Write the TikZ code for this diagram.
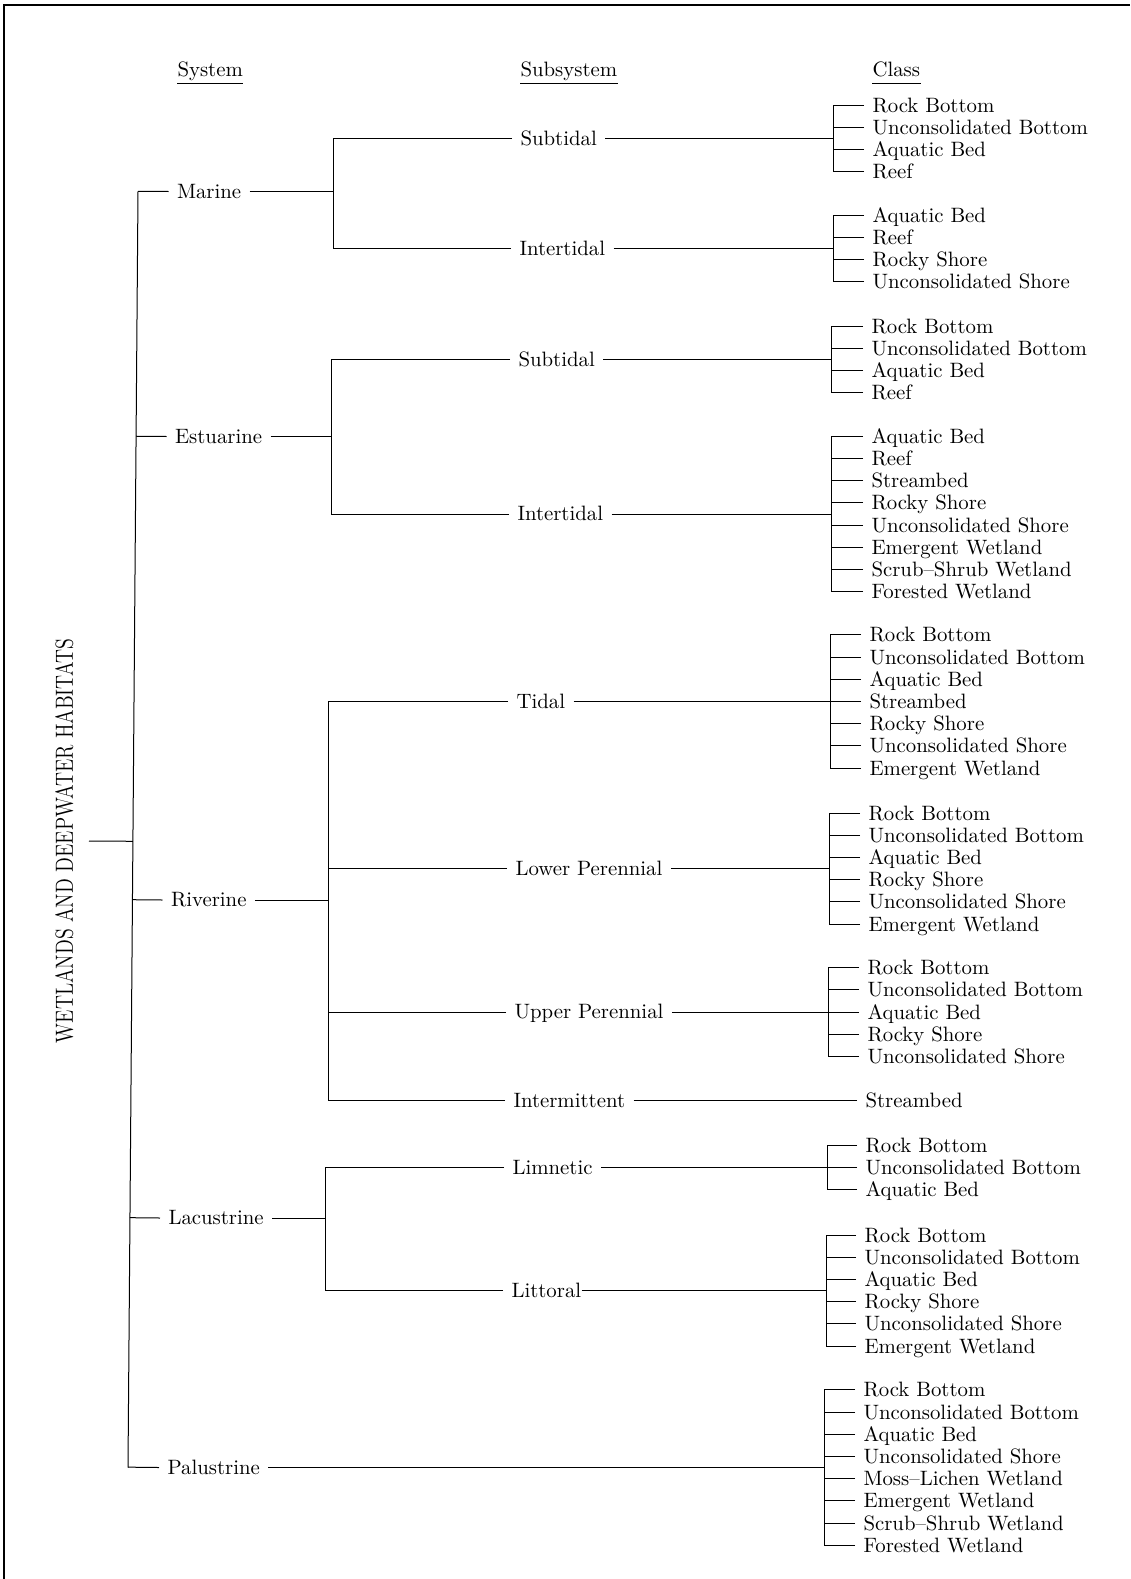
\documentclass[tikz,border=0pt]{standalone}
\usepackage{fontspec}
\usepackage{graphicx}
\usetikzlibrary{calc}
\begin{document}
\begin{tikzpicture}[x=0.5pt,y=-0.5pt,line width=0.5pt,font=\fontsize{10.4}{12}\selectfont,
	lbl/.style={anchor=west,inner xsep=4pt,inner ysep=0pt,text height=7.5pt,text depth=1pt},
	cls/.style={lbl,text height=8pt},
	head/.style={anchor=base west,inner sep=0pt,text depth=3.2pt}]
	\useasboundingbox (0,0) rectangle (1130,1579);
	\draw[line width=1.1pt] (4,1579) -- (4,5) -- (1130,5);
	\node[head] (hsys) at (177,76.5) {System};
	\node[head] (hsub) at (520,76.5) {Subsystem};
	\node[head] (hcls) at (872,76.5) {Class};
	\foreach \h in {hsys,hsub,hcls} \draw (\h.south west) -- (\h.south east);
	\coordinate (tTop) at (138,191.5);
	\coordinate (tBot) at (128,1467.5);
	\draw (tTop) -- (tBot);
	\node[rotate=90,anchor=south,inner xsep=0pt,inner ysep=7.5pt] (root) at (89,841)
		{\scalebox{0.8}[1]{\fontsize{12.4}{14}\selectfont WETLANDS AND DEEPWATER HABITATS}};
	\draw (root.south) -- ($(tTop)!(root.south)!(tBot)$);
	\node[lbl] (mar) at (168.5,191.5) {Marine};
	\node[lbl] (est) at (166.5,436.5) {Estuarine};
	\node[lbl] (riv) at (162.5,900) {Riverine};
	\node[lbl] (lac) at (160,1218) {Lacustrine};
	\node[lbl] (pal) at (159,1467.5) {Palustrine};
	\foreach \s in {mar,est,riv,lac,pal} \draw (\s.west) -- ($(tTop)!(\s.west)!(tBot)$);
	\coordinate (mar-b) at (333,191.5);
	\coordinate (est-b) at (331,436.5);
	\coordinate (riv-b) at (328,900);
	\coordinate (lac-b) at (325,1218);
	\foreach \p in {mar,est,riv,lac} \draw (\p.east) -- (\p-b);
	\node[lbl] (ms) at (512,138.5) {Subtidal};
	\node[lbl] (mi) at (511,248.5) {Intertidal};
	\node[lbl] (es) at (510,359.5) {Subtidal};
	\node[lbl] (ei) at (509,514) {Intertidal};
	\node[lbl] (rt) at (508,701.5) {Tidal};
	\node[lbl] (rl) at (507,868.5) {Lower Perennial};
	\node[lbl] (ru) at (506,1012) {Upper Perennial};
	\node[lbl] (ri) at (505,1100.5) {Intermittent};
	\node[lbl] (lm) at (504,1167.5) {Limnetic};
	\node[lbl] (lt) at (503,1290.5) {Littoral};
	\foreach \s/\p in {ms/mar,mi/mar,es/est,ei/est,rt/riv,rl/riv,ru/riv,ri/riv,lm/lac,lt/lac}
		\draw (\s.west) -| (\p-b);
	\foreach \g/\bx/\cy/\tx/\n/\gap/\lst in {
		ms/833/138.5/864/4/0pt/{Rock Bottom,Unconsolidated Bottom,Aquatic Bed,Reef},
		mi/833/248.5/864/4/0pt/{Aquatic Bed,Reef,Rocky Shore,Unconsolidated Shore},
		es/831/359.5/863/4/0pt/{Rock Bottom,Unconsolidated Bottom,Aquatic Bed,Reef},
		ei/831/514/863/8/0pt/{Aquatic Bed,Reef,Streambed,Rocky Shore,Unconsolidated Shore,Emergent Wetland,Scrub--Shrub Wetland,Forested Wetland},
		rt/830/701.5/861/7/0pt/{Rock Bottom,Unconsolidated Bottom,Aquatic Bed,Streambed,Rocky Shore,Unconsolidated Shore,Emergent Wetland},
		rl/829/868.5/860/6/0pt/{Rock Bottom,Unconsolidated Bottom,Aquatic Bed,Rocky Shore,Unconsolidated Shore,Emergent Wetland},
		ru/828.5/1012/859/5/0pt/{Rock Bottom,Unconsolidated Bottom,Aquatic Bed,Rocky Shore,Unconsolidated Shore},
		ri/828/1100.5/857/1/0pt/{Streambed},
		lm/827.5/1167.5/857/3/0pt/{Rock Bottom,Unconsolidated Bottom,Aquatic Bed},
		lt/826.5/1290.5/856/6/-4pt/{Rock Bottom,Unconsolidated Bottom,Aquatic Bed,Rocky Shore,Unconsolidated Shore,Emergent Wetland},
		pal/824.5/1467.5/855/8/0pt/{Rock Bottom,Unconsolidated Bottom,Aquatic Bed,Unconsolidated Shore,Moss--Lichen Wetland,Emergent Wetland,Scrub--Shrub Wetland,Forested Wetland}}{
		\coordinate (\g-b) at (\bx,\cy);
		\draw ([xshift=\gap]\g.east) -- (\g-b);
		\foreach \cl [count=\i] in \lst {
			\node[cls] (\g-\i) at (\tx,{\cy+(\i-(\n+1)/2)*22.2}) {\cl};
			\draw (\g-\i.west) -| (\g-b);
		}
	}
\end{tikzpicture}
\end{document}
